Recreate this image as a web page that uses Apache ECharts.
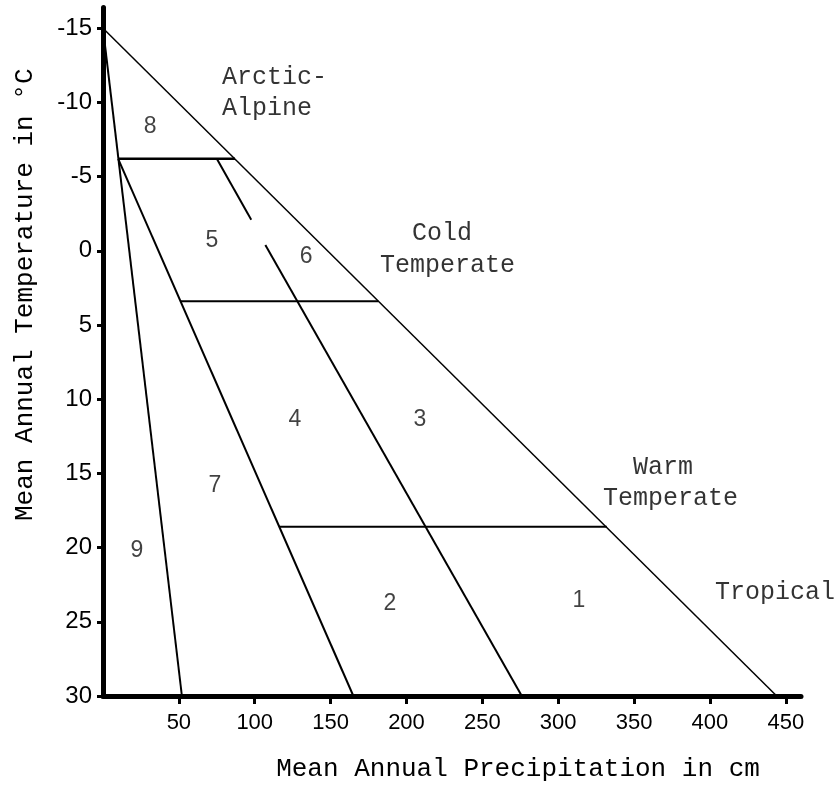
<!DOCTYPE html>
<html>
<head>
<meta charset="utf-8">
<script src="https://cdn.jsdelivr.net/npm/echarts@6/dist/echarts.min.js"></script>
<style>
html,body{margin:0;padding:0;background:#fff;}
#chart{width:837px;height:787px;}
</style>
</head>
<body>
<div id="chart"></div>
<script>
// ---- data ----
const xTicks = [50, 100, 150, 200, 250, 300, 350, 400, 450];
const yTicks = [-15, -10, -5, 0, 5, 10, 15, 20, 25, 30];

// boundary lines, [precipitation cm, temperature °C]
const outerLine  = [[0, -15], [444, 30]];
const lineA      = [[0, -15], [52, 30]];
const lineB      = [[10, -6.2], [165, 30]];
const lineCUpper = [[75, -6.2], [97.7, -2.1]];
const lineCLower = [[107, -0.4], [276, 30]];
const hLine1     = [[10, -6.2], [87, -6.2]];
const hLine2     = [[51, 3.4], [181.5, 3.4]];
const hLine3     = [[116, 18.6], [332, 18.6]];

// zone numbers
const zoneNames = ['1', '2', '3', '4', '5', '6', '7', '8', '9'];
const zoneX     = [313.7, 189, 208.9, 126.5, 71.8, 133.8, 73.8, 31, 22.4];
const zoneY     = [23.6, 23.8, 11.4, 11.4, -0.7, 0.4, 15.8, -8.4, 20.2];

// region names (each text line)
const regionNames = ['Arctic-', 'Alpine', 'Cold', 'Temperate', 'Warm', 'Temperate', 'Tropical'];
const regionX     = [78.4, 78.4, 203.6, 182.5, 349.3, 329.5, 403.3];
const regionY     = [-11.7, -9.6, -1.2, 1.0, 14.6, 16.7, 23.0];

const xTitle = 'Mean Annual Precipitation in cm';
const yTitle = 'Mean Annual Temperature in °C';

// ---- chart ----
const mono = 'Liberation Mono';
const sans = 'Liberation Sans';
const chart = echarts.init(document.getElementById('chart'), null, {renderer: 'canvas'});

function seg(data, width) {
  return {
    type: 'line', data: data, symbol: 'none', silent: true,
    lineStyle: {color: '#000', width: width}, animation: false
  };
}

const zoneData = zoneNames.map((n, i) => ({name: n, value: [zoneX[i], zoneY[i]]}));
const regionData = regionNames.map((n, i) => ({name: n, value: [regionX[i], regionY[i]]}));

chart.setOption({
  backgroundColor: '#fff',
  animation: false,
  grid: {left: 103, right: 36, top: 7.5, bottom: 89, containLabel: false},
  xAxis: {
    type: 'value', min: 0, max: 460,
    position: 'bottom',
    name: xTitle, nameLocation: 'middle', nameGap: 60,
    nameTextStyle: {fontFamily: mono, fontSize: 26, color: '#000', padding: [0, 0, 0, 132]},
    axisLine: {show: true, onZero: false, lineStyle: {color: '#000', width: 5}},
    axisTick: {show: true, inside: false, length: 8, customValues: xTicks, lineStyle: {color: '#000', width: 3}},
    axisLabel: {show: true, margin: 16, customValues: xTicks, fontFamily: sans, fontSize: 22, color: '#000'},
    splitLine: {show: false}
  },
  yAxis: {
    type: 'value', min: -16.4, max: 30, inverse: true,
    name: yTitle, nameLocation: 'middle', nameGap: 65, nameRotate: 90,
    nameTextStyle: {fontFamily: mono, fontSize: 26, color: '#000', padding: [0, 0, 0, 114]},
    axisLine: {show: true, onZero: false, lineStyle: {color: '#000', width: 5}},
    axisTick: {show: true, inside: false, length: 6, customValues: yTicks, lineStyle: {color: '#000', width: 3}},
    axisLabel: {show: true, margin: 11, customValues: yTicks, fontFamily: sans, fontSize: 24, color: '#000'},
    splitLine: {show: false}
  },
  series: [
    seg(outerLine, 1.5),
    seg(lineA, 2),
    seg(lineB, 2),
    seg(lineCUpper, 2),
    seg(lineCLower, 2),
    seg(hLine1, 2.5),
    seg(hLine2, 2),
    seg(hLine3, 2),
    {
      type: 'scatter', data: zoneData, symbolSize: 0, silent: true,
      label: {show: true, position: 'inside', formatter: p => p.name,
              fontFamily: sans, fontSize: 23, color: '#111'}
    },
    {
      type: 'scatter', data: regionData, symbolSize: 0, silent: true,
      label: {show: true, position: 'right', distance: 0, align: 'left', verticalAlign: 'middle',
              formatter: p => p.name, fontFamily: mono, fontSize: 25, color: '#000'}
    }
  ]
});
</script>
</body>
</html>
